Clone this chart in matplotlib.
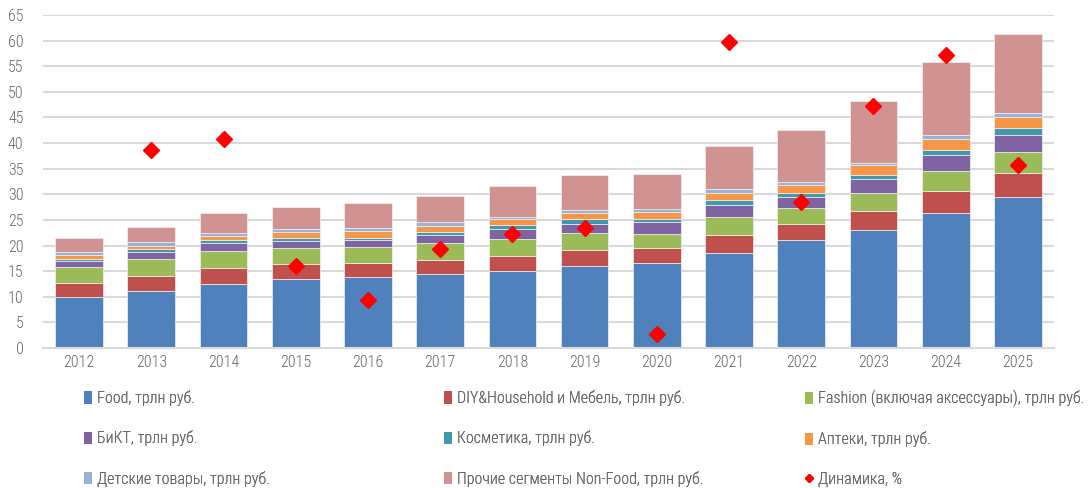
import numpy as np
import matplotlib.pyplot as plt
from matplotlib.lines import Line2D
from matplotlib.patches import Patch

plt.rcParams['font.family'] = ['Roboto Condensed', 'Roboto', 'DejaVu Sans']
plt.rcParams['font.weight'] = 'light'

years = ['2012', '2013', '2014', '2015', '2016', '2017', '2018',
         '2019', '2020', '2021', '2022', '2023', '2024', '2025']

food = [10.0, 11.1, 12.4, 13.5, 13.8, 14.5, 15.1, 16.1, 16.5, 18.5, 21.0, 23.0, 26.4, 29.5]
diy = [2.7, 3.0, 3.3, 2.8, 2.7, 2.7, 2.9, 3.1, 3.1, 3.6, 3.3, 3.8, 4.2, 4.7]
fashion = [3.1, 3.3, 3.2, 3.3, 3.3, 3.3, 3.3, 3.2, 2.7, 3.4, 3.1, 3.4, 4.0, 4.1]
bikt = [1.2, 1.4, 1.5, 1.2, 1.2, 1.5, 1.9, 1.9, 2.2, 2.5, 2.1, 2.7, 3.1, 3.3]
cosmetics = [0.4, 0.5, 0.6, 0.7, 0.5, 0.7, 0.8, 0.9, 0.7, 0.9, 0.8, 0.9, 1.0, 1.3]
pharmacy = [0.75, 0.7, 0.9, 1.1, 1.3, 1.2, 1.2, 1.2, 1.4, 1.4, 1.6, 1.9, 2.0, 2.2]
kids = [0.55, 0.6, 0.5, 0.6, 0.6, 0.6, 0.4, 0.5, 0.5, 0.7, 0.6, 0.5, 0.8, 0.8]
other = [2.7, 3.1, 4.0, 4.3, 4.9, 5.2, 6.1, 6.8, 6.9, 8.5, 10.1, 12.0, 14.3, 15.4]
dynamics = [np.nan, 38.7, 40.7, 16.1, 9.4, 19.3, 22.3, 23.4, 2.8, 59.7, 28.5, 47.2, 57.2, 35.8]

series = [food, diy, fashion, bikt, cosmetics, pharmacy, kids, other]
labels = ['Food, трлн руб.', 'DIY&Household и Мебель, трлн руб.',
          'Fashion (включая аксессуары), трлн руб.', 'БиКТ, трлн руб.',
          'Косметика, трлн руб.', 'Аптеки, трлн руб.',
          'Детские товары, трлн руб.', 'Прочие сегменты Non-Food, трлн руб.']
dyn_label = 'Динамика, %'
colors = ['#4F81BD', '#C0504D', '#9BBB59', '#8064A2', '#4198AF',
          '#F79646', '#95B3D7', '#D09391']

text_color = '#666666'
grid_color = '#D9D9D9'

fig = plt.figure(figsize=(10.91, 4.88), dpi=100)
ax = fig.add_axes([43 / 1091, 140 / 488, 1011 / 1091, 333 / 488])

x = np.arange(len(years))
bottom = np.zeros(len(years))
for vals, col in zip(series, colors):
    ax.bar(x, vals, bottom=bottom, width=0.66, color=col,
           edgecolor='#F2F2F2', linewidth=0.5, zorder=2)
    bottom += np.array(vals)

ax.plot(x, dynamics, linestyle='none', marker='D', markersize=8,
        color='#FF0000', zorder=3)

ax.set_xlim(-0.5, len(years) - 0.5)
ax.set_ylim(0, 65)
ax.set_yticks(range(0, 66, 5))
ax.set_xticks(x)
ax.set_xticklabels(years)
ax.grid(axis='y', color=grid_color, linewidth=1.5, zorder=0)
ax.set_axisbelow(True)
for s in ['top', 'right', 'left']:
    ax.spines[s].set_visible(False)
ax.spines['bottom'].set_color(grid_color)
ax.spines['bottom'].set_linewidth(1.5)
ax.tick_params(axis='both', length=0, colors=text_color, labelsize=11.5)
ax.tick_params(axis='y', pad=14)
ax.tick_params(axis='x', pad=5)

# legend: three separate columns so the rows read left to right
handles = [Patch(facecolor=c, edgecolor='none') for c in colors]
handles.append(Line2D([], [], linestyle='none', marker='D', markersize=4,
                      color='#FF0000'))
all_labels = labels + [dyn_label]
col_x = [84 / 1091, 444 / 1091, 805 / 1091]
for ci in range(3):
    idx = [ci, ci + 3, ci + 6]
    leg = fig.legend([handles[i] for i in idx], [all_labels[i] for i in idx],
                     loc='upper left', bbox_to_anchor=(col_x[ci], 98 / 488),
                     frameon=False, fontsize=11.5, labelcolor=text_color,
                     handlelength=0.5, handleheight=0.8, handletextpad=0.3,
                     labelspacing=1.52, borderpad=0, borderaxespad=0)
    fig.add_artist(leg)

fig.savefig('out.png', dpi=100)
